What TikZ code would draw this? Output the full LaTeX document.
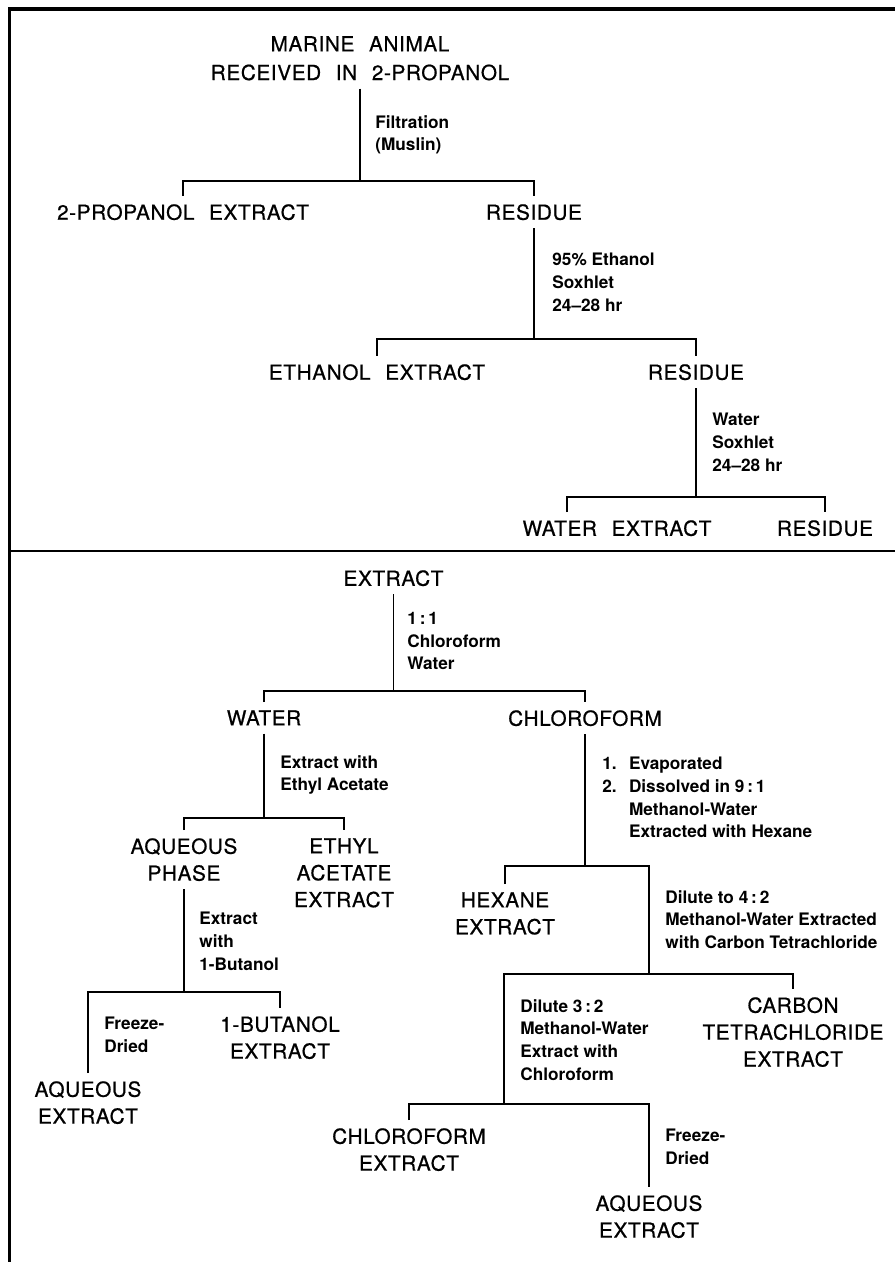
\documentclass[tikz,border=0pt]{standalone}
\usepackage{fontspec}
\setmainfont{TeX Gyre Heros}
\newfontfamily\stagefamily[LetterSpace=3.0, WordSpace=2.3, FakeBold=0.7]{TeX Gyre Heros}
\newcommand{\stagefont}{\stagefamily\fontsize{11.8}{15.3}\selectfont}
\newcommand{\condfont}{\fontsize{9.8}{12.9}\selectfont\bfseries}

\begin{document}
\begin{tikzpicture}[
    stage/.style={anchor=north, align=center, inner sep=4.5pt, font=\stagefont},
    cond/.style={anchor=north west, align=left, inner sep=0pt, font=\condfont},
    link/.style={line width=0.8pt}]
    \useasboundingbox (0, 0) rectangle (17.9, -25.24);
    % Frame: heavy top and left rules, thin rule between the two panels
    \draw[line width=2pt] (0.19, -25.24) -- (0.19, -0.18) -- (17.9, -0.18);
    \draw[line width=1.1pt] (0.19, -11.02) -- (17.9, -11.02);

    % ---- Upper panel: successive extractions of the animal ----
    \node[stage] (marine) at (7.2, -0.56) {MARINE ANIMAL\\[1pt]RECEIVED IN 2-PROPANOL};
    \node[cond] (filt) at (7.5, -2.3) {Filtration\\(Muslin)};
    \node[stage] (prop) at (3.66, -3.92) {2-PROPANOL EXTRACT};
    \node[stage] (res1) at (10.68, -3.92) {RESIDUE};
    \coordinate (j1) at (7.2, -3.62);
    \draw[link] (marine) -- (j1);
    \draw[link] (prop.north) |- (j1) -| (res1.north);
    % Ethanol soxhlet of the residue
    \node[cond] (soxeth) at (11.04, -5.06) {95\% Ethanol\\Soxhlet\\24--28 hr};
    \node[stage] (ethx) at (7.54, -7.12) {ETHANOL EXTRACT};
    \node[stage] (res2) at (13.92, -7.12) {RESIDUE};
    \coordinate (j2) at (10.68, -6.78);
    \draw[link] (res1) -- (j2);
    \draw[link] (ethx.north) |- (j2) -| (res2.north);
    % Water soxhlet (left tick sits over WATER, not the middle)
    \node[cond] (soxwat) at (14.24, -8.26) {Water\\Soxhlet\\24--28 hr};
    \node[stage] (wx) at (12.34, -10.24) {WATER EXTRACT};
    \node[stage] (res3) at (16.5, -10.24) {RESIDUE};
    \coordinate (j3) at (13.92, -9.94);
    \coordinate (w3) at (11.34, -9.94);
    \draw[link] (res2) -- (j3);
    \draw[link] (wx.north -| w3) -- (w3) -| (res3.north);

    % ---- Lower panel: partition of an extract ----
    \node[stage] (ext) at (7.87, -11.24) {EXTRACT};
    \node[cond] (ratio) at (8.14, -12.24) {1\,:\,1\\Chloroform\\Water};
    \node[stage] (wat) at (5.28, -14.04) {WATER};
    \node[stage] (chl) at (11.7, -14.04) {CHLOROFORM};
    \coordinate (j4) at (7.87, -13.82);
    \draw[link] (ext) -- (j4);
    \draw[link] (wat.north) |- (j4) -| (chl.north);
    % Water layer
    \node[cond] (etac) at (5.6, -15.1) {Extract with\\Ethyl Acetate};
    \node[stage] (aqp) at (3.68, -16.6) {AQUEOUS\\PHASE};
    \node[stage] (eth) at (6.88, -16.6) {ETHYL\\ACETATE\\EXTRACT};
    \coordinate (j5) at (5.28, -16.36);
    \draw[link] (wat) -- (j5);
    \draw[link] (aqp.north) |- (j5) -| (eth.north);
    \node[cond] (buoh) at (3.98, -18.24) {Extract\\with\\1-Butanol};
    \node[stage] (aqe1) at (1.76, -21.46) {AQUEOUS\\EXTRACT};
    \node[stage] (but) at (5.6, -20.16) {1-BUTANOL\\EXTRACT};
    \node[cond] (fd1) at (2.08, -20.34) {Freeze-\\Dried};
    \coordinate (j6) at (3.68, -19.84);
    \draw[link] (aqp) -- (j6);
    \draw[link] (aqe1.north) |- (j6) -| (but.north);
    % Chloroform layer
    \node[cond] (hexcond) at (12.04, -15.14)
    {1.\hspace{7pt}Evaporated\\2.\hspace{7pt}Dissolved in 9\,:\,1\\
     \hphantom{2.\hspace{7pt}}Methanol-Water\\\hphantom{2.\hspace{7pt}}Extracted with Hexane};
    \node[stage] (hex) at (10.1, -17.68) {HEXANE\\EXTRACT};
    \coordinate (j7) at (11.7, -17.32);
    \coordinate (j8) at (12.98, -19.48);
    \draw[link] (chl) -- (j7);
    \draw[link] (hex.north) |- (j7) -| (j8);
    \node[cond] (ccl) at (13.3, -17.8)
    {Dilute to 4\,:\,2\\Methanol-Water Extracted\\with Carbon Tetrachloride};
    \node[stage] (carb) at (15.86, -19.78) {CARBON\\TETRACHLORIDE\\EXTRACT};
    \coordinate (j9) at (10.08, -22.08);
    \draw[link] (j9) |- (j8) -| (carb.north);
    \node[cond] (chcond) at (10.4, -19.98)
    {Dilute 3\,:\,2\\Methanol-Water\\Extract with\\Chloroform};
    \node[stage] (chx) at (8.18, -22.4) {CHLOROFORM\\EXTRACT};
    \node[stage] (aqe2) at (12.98, -23.74) {AQUEOUS\\EXTRACT};
    \node[cond] (fd2) at (13.3, -22.58) {Freeze-\\Dried};
    \draw[link] (chx.north) |- (j9) -| (aqe2.north);
\end{tikzpicture}
\end{document}
